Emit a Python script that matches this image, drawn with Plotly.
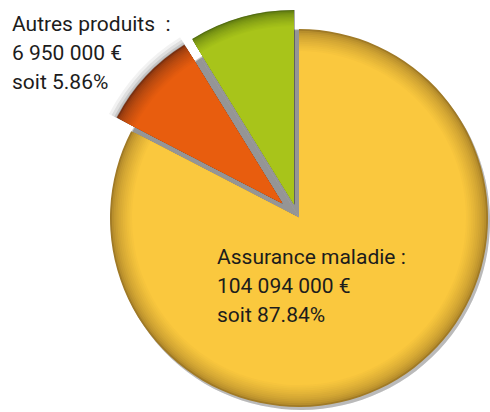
import plotly.graph_objects as go

# ---- data (slice shares as drawn in the picture) ----
labels = ["Assurance maladie", "Produit intermédiaire", "Autres produits"]
slice_values = [82.6, 8.6, 8.8]

# texts shown on the chart
autres_lines = ["Autres produits  :", "6 950 000 €", "soit 5.86%"]
assurance_lines = ["Assurance maladie :", "104 094 000 €", "soit 87.84%"]

W, H = 490, 412
TRANSP = "rgba(0,0,0,0)"

base_colors = ["#FAC83E", "#E85D0E", "#A8C41A"]
rim_colors = ["#A07A26", "#7A3010", "#55700F"]


def hex2rgb(h):
    h = h.lstrip("#")
    return tuple(int(h[i:i + 2], 16) for i in (0, 2, 4))


def mix(c1, c2, t):
    a, b = hex2rgb(c1), hex2rgb(c2)
    return "rgb(%d,%d,%d)" % tuple(round(a[i] + (b[i] - a[i]) * t) for i in range(3))


def wedge(cx, cy, r, colors):
    r = min(r, cx, W - cx, cy, H - cy)
    return go.Pie(
        values=slice_values, labels=labels, sort=False,
        direction="clockwise", rotation=0,
        marker=dict(colors=colors, line=dict(width=0)),
        textinfo="none", hoverinfo="skip", showlegend=False,
        domain=dict(x=[(cx - r) / W, (cx + r) / W],
                    y=[1 - (cy + r) / H, 1 - (cy - r) / H]),
    )


def only(idx, color):
    cols = [TRANSP] * len(slice_values)
    for i in (idx if isinstance(idx, (list, tuple)) else [idx]):
        cols[i] = color
    return cols


# geometry of each slice (centre in px, radius in px)
geom = [(299, 218, 189), (282, 203, 186), (294, 204, 194)]

traces = []

# soft drop shadow of the whole pie
for k, a in zip([8, 6, 4, 2], [0.04, 0.06, 0.08, 0.12]):
    cx, cy, r = geom[0]
    traces.append(wedge(cx + 2, cy + 3, r + k, only([0], "rgba(0,0,0,%g)" % a)))

# gray gap under the pulled slices
cx, cy, r = geom[0]
for k, a in zip([8, 4, 0], [0.10, 0.18, 0.38]):
    traces.append(wedge(cx + 1, cy + 1, r + k, only([1, 2], "rgba(60,60,60,%g)" % a)))

# shadows of pulled slices
for i in (1, 2):
    cx, cy, r = geom[i]
    for k, a in zip([10, 7, 4, 2], [0.05, 0.08, 0.11, 0.14]):
        traces.append(wedge(cx + 1, cy + 1, r + k, only(i, "rgba(0,0,0,%g)" % a)))

# the slices with a darker rim
rim_width = [22, 20, 16]
steps = 12
for i in range(3):
    cx, cy, r = geom[i]
    for s in range(steps + 1):
        t = s / steps
        rr = r - rim_width[i] * t
        col = mix(rim_colors[i], base_colors[i], t ** 0.55)
        traces.append(wedge(cx, cy, rr, only(i, col)))

fig = go.Figure(traces)

annos = []
font = dict(family="Roboto, DejaVu Sans, sans-serif", size=21, color="#1c1c1c")
for j, line in enumerate(autres_lines):
    annos.append(dict(text=line, x=10 / W, y=1 - (24 + 29 * j) / H,
                      xref="paper", yref="paper", xanchor="left", yanchor="middle",
                      showarrow=False, font=font))
for j, line in enumerate(assurance_lines):
    annos.append(dict(text=line, x=215 / W, y=1 - (257 + 29 * j) / H,
                      xref="paper", yref="paper", xanchor="left", yanchor="middle",
                      showarrow=False, font=font))

fig.update_layout(
    width=W, height=H,
    margin=dict(l=0, r=0, t=0, b=0),
    paper_bgcolor="white", plot_bgcolor="white",
    annotations=annos,
)

fig.write_html(
    "out.html",
    config={"displayModeBar": False},
    post_script="document.body.style.margin='0';document.body.style.overflow='hidden';",
)
